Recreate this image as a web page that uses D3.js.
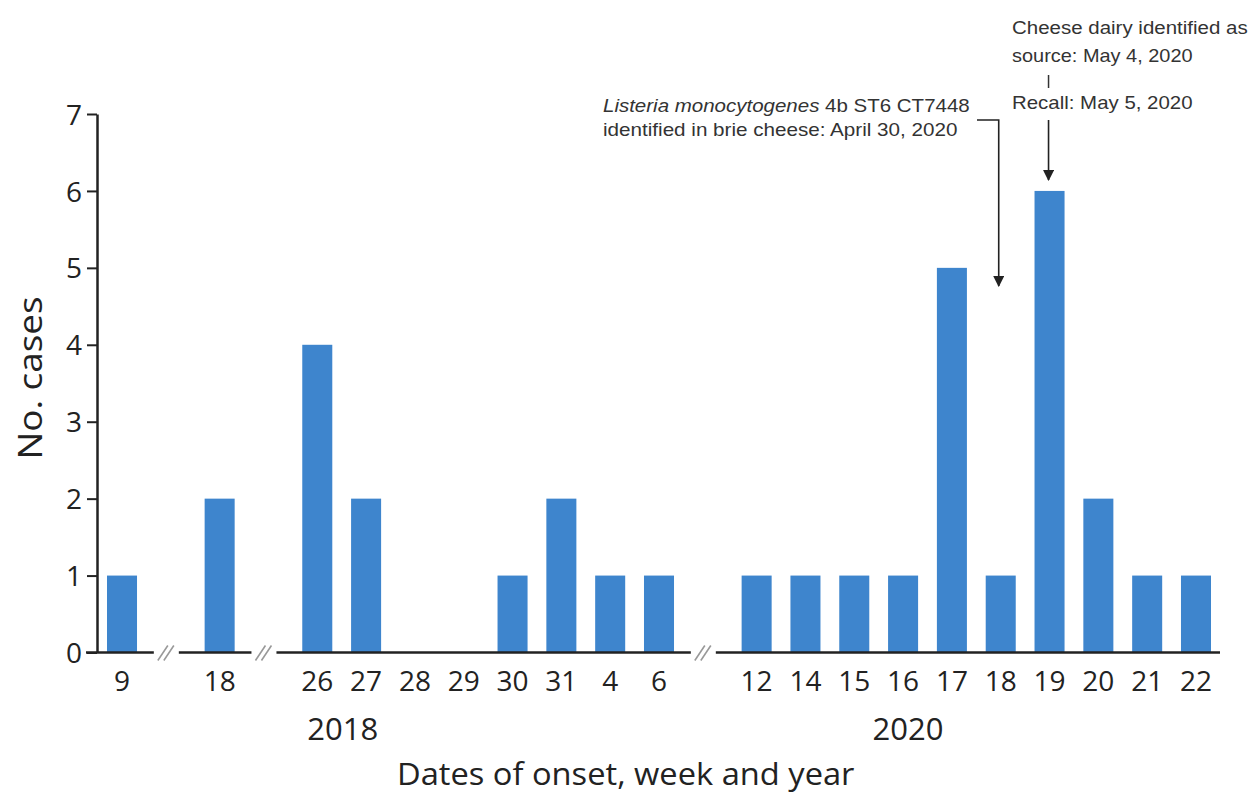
<!DOCTYPE html>
<html><head><meta charset="utf-8">
<script src="https://cdn.jsdelivr.net/npm/d3@7"></script>
<style>body{margin:0;background:#fff}</style>
</head><body>
<svg id="c" width="1250" height="796"></svg>
<script>
const weekLabels = ["9","","18","","26","27","28","29","30","31","4","6","","12","14","15","16","17","18","19","20","21","22"];
const cases = [1,null,2,null,4,2,0,0,1,2,1,1,null,1,1,1,1,5,1,6,2,1,1];
const gapSlots = [1,3,12];
const yTicks = [0,1,2,3,4,5,6,7];
const yearLabels = [{label:"2018", slot:4.52}, {label:"2020", slot:16.1}];

const svg = d3.select("#c");
const mainFont = "'Open Sans', sans-serif";
const annFont = "'Liberation Sans', Arial, sans-serif";
const x = d3.scaleBand().domain(d3.range(weekLabels.length)).range([97.6,1220.4]).paddingInner(0.385).paddingOuter(0.1925);
const y = d3.scaleLinear().domain([0,7]).range([652.5,114]);
const axisX = 97;
const cx = i => x(Math.floor(i)) + x.bandwidth()/2 + (i - Math.floor(i))*x.step();

function fitWidth(sel, x0, w){
  const bw = sel.node().getBBox().width;
  const s = w / bw;
  sel.attr("transform", `translate(${x0},0) scale(${s},1) translate(${-x0},0)`);
}

// bars
svg.append("g").selectAll("rect").data(cases.map((v,i)=>({v,i})).filter(d=>d.v)).join("rect")
  .attr("x",d=>x(d.i)).attr("width",x.bandwidth())
  .attr("y",d=>y(d.v)).attr("height",d=>y(0)-y(d.v))
  .attr("fill","#3e85cd");

// y axis
const ya = svg.append("g").attr("transform",`translate(${axisX},0)`)
  .call(d3.axisLeft(y).tickValues(yTicks).tickFormat(d3.format("d")).tickSize(10).tickPadding(5).tickSizeOuter(0));
ya.select(".domain").attr("stroke","#222").attr("stroke-width",2.5);
ya.selectAll(".tick line").attr("stroke","#222").attr("stroke-width",2);
ya.selectAll("text").attr("font-family",mainFont).attr("font-size",28).attr("fill","#222").attr("dy","0.36em");

// baseline segments with breaks
const ybase = y(0);
const segs = [];
let start = axisX-11;
gapSlots.forEach(g=>{ segs.push([start, cx(g)-17]); start = cx(g)+8; });
segs.push([start, 1220]);
svg.append("g").selectAll("line").data(segs).join("line")
  .attr("x1",d=>d[0]).attr("x2",d=>d[1]).attr("y1",ybase).attr("y2",ybase)
  .attr("stroke","#222").attr("stroke-width",2.5);
const br = svg.append("g");
gapSlots.forEach(g=>{
  [-8,-2].forEach(o=>{
    br.append("line").attr("x1",cx(g)+o-5).attr("y1",ybase+8).attr("x2",cx(g)+o+5).attr("y2",ybase-7)
      .attr("stroke","#999").attr("stroke-width",1.6);
  });
});

// x tick labels
svg.append("g").selectAll("text").data(weekLabels.map((l,i)=>({l,i})).filter(d=>d.l)).join("text")
  .attr("x",d=>cx(d.i)).attr("y",691).attr("text-anchor","middle")
  .attr("font-family",mainFont).attr("font-size",28).attr("fill","#222").text(d=>d.l);

// year labels
svg.append("g").selectAll("text").data(yearLabels).join("text")
  .attr("x",d=>cx(d.slot)).attr("y",740).attr("text-anchor","middle")
  .attr("font-family",mainFont).attr("font-size",31).attr("fill","#222").text(d=>d.label);

// axis titles
const xt = svg.append("text").attr("x",397).attr("y",785)
  .attr("font-family",mainFont).attr("font-size",31).attr("fill","#222").text("Dates of onset, week and year");
fitWidth(xt, 397, 458);
svg.append("text").attr("transform","translate(42,378) rotate(-90)").attr("text-anchor","middle")
  .attr("font-family",mainFont).attr("font-size",33).attr("fill","#222").attr("textLength",163).attr("lengthAdjust","spacingAndGlyphs").text("No. cases");

// annotations
const defs = svg.append("defs");
defs.append("marker").attr("id","ah").attr("viewBox","0 0 10 10").attr("refX",9).attr("refY",5)
  .attr("markerWidth",11).attr("markerHeight",11).attr("markerUnits","userSpaceOnUse").attr("orient","auto")
  .append("path").attr("d","M0,0L10,5L0,10Z").attr("fill","#222");

function annLine(x0, yb, w, parts){
  const t = svg.append("text").attr("x",x0).attr("y",yb).attr("font-family",annFont).attr("font-size",17.5).attr("fill","#333");
  parts.forEach(p=>t.append("tspan").attr("font-style",p.it?"italic":"normal").text(p.t));
  fitWidth(t, x0, w);
}
annLine(603,112,367,[{t:"Listeria monocytogenes",it:true},{t:" 4b ST6 CT7448"}]);
annLine(603,136,355,[{t:"identified in brie cheese: April 30, 2020"}]);
annLine(1012,34,236,[{t:"Cheese dairy identified as"}]);
annLine(1012,62,181,[{t:"source: May 4, 2020"}]);
annLine(1012,109,181,[{t:"Recall: May 5, 2020"}]);

const ax1 = cx(18)-2;
svg.append("path").attr("d",`M977,120H${ax1}V286`).attr("fill","none").attr("stroke","#222").attr("stroke-width",1.6).attr("marker-end","url(#ah)");
const ax2 = cx(19)-1;
svg.append("line").attr("x1",ax2).attr("x2",ax2).attr("y1",75).attr("y2",88).attr("stroke","#333").attr("stroke-width",1.5);
svg.append("line").attr("x1",ax2).attr("x2",ax2).attr("y1",120).attr("y2",180).attr("stroke","#222").attr("stroke-width",1.6).attr("marker-end","url(#ah)");
</script>
</body></html>
